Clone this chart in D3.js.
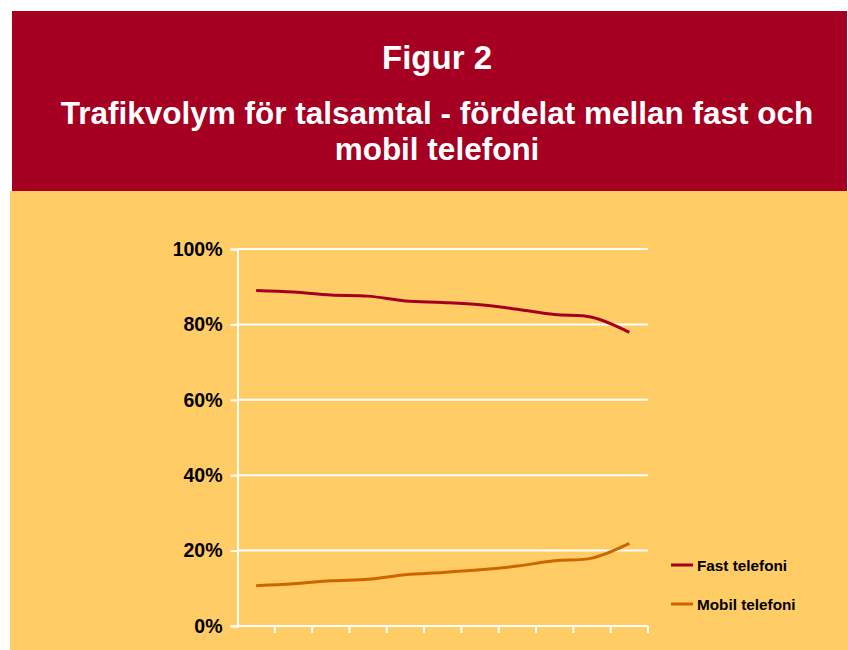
<!DOCTYPE html>
<html>
<head>
<meta charset="utf-8">
<script src="https://cdn.jsdelivr.net/npm/d3@7"></script>
<style>
  body { margin: 0; background: #ffffff; }
  text { font-family: "Liberation Sans", Arial, sans-serif; font-weight: bold; }
</style>
</head>
<body>
<script>
// data (share of call volume, %)
var periods = ["1","2","3","4","5","6","7","8","9","10","11"];
var fastTelefoni = [89.0, 88.6, 87.8, 87.5, 86.2, 85.8, 85.2, 84.0, 82.6, 81.9, 77.9];
var mobilTelefoni = [10.7, 11.2, 12.0, 12.4, 13.6, 14.2, 14.9, 15.9, 17.3, 18.0, 21.9];
var yTicks = [0, 20, 40, 60, 80, 100];
var seriesNames = ["Fast telefoni", "Mobil telefoni"];
var seriesColors = ["#a50021", "#cc6600"];

var width = 848, height = 650;
var svg = d3.select("body").append("svg")
    .attr("width", width)
    .attr("height", height);

// background panels
svg.append("rect").attr("x", 10).attr("y", 191).attr("width", 838).attr("height", 459).attr("fill", "#ffcc66");
svg.append("rect").attr("x", 12).attr("y", 11).attr("width", 835).attr("height", 180).attr("fill", "#a50021");

// titles
svg.append("text").attr("x", 437).attr("y", 69).attr("text-anchor", "middle")
    .attr("fill", "white").style("font-size", "33px").text("Figur 2");
svg.append("text").attr("x", 437).attr("y", 124).attr("text-anchor", "middle")
    .attr("fill", "white").style("font-size", "31.5px").text("Trafikvolym för talsamtal - fördelat mellan fast och");
svg.append("text").attr("x", 437).attr("y", 160).attr("text-anchor", "middle")
    .attr("fill", "white").style("font-size", "31.5px").text("mobil telefoni");

var x = d3.scaleBand().domain(periods).range([237.5, 648]);
var y = d3.scaleLinear().domain([0, 100]).range([626, 249]);

// gridlines
svg.append("g").selectAll("line").data(yTicks.filter(function(d){ return d > 0; }))
  .enter().append("line")
    .attr("x1", 237.5).attr("x2", 648)
    .attr("y1", function(d){ return y(d); }).attr("y2", function(d){ return y(d); })
    .attr("stroke", "white").attr("stroke-width", 2);

// y axis
var yAxis = svg.append("g").attr("transform", "translate(237.5,0)")
    .call(d3.axisLeft(y).tickValues(yTicks).tickSize(7).tickPadding(8)
      .tickFormat(function(d){ return d + "%"; }));
yAxis.select(".domain").attr("stroke", "white").attr("stroke-width", 2);
yAxis.selectAll(".tick line").attr("stroke", "white").attr("stroke-width", 2);
yAxis.selectAll(".tick text").attr("fill", "black")
    .style("font-size", "19.5px").style("font-family", "Liberation Sans, Arial, sans-serif").style("font-weight", "bold");

// x axis: ticks on category boundaries
var xAxis = svg.append("g").attr("transform", "translate(0,626)");
xAxis.append("line").attr("x1", 237.5).attr("x2", 648).attr("y1", 0).attr("y2", 0)
    .attr("stroke", "white").attr("stroke-width", 2);
var bounds = periods.map(function(p){ return x(p) + x.bandwidth(); });
xAxis.selectAll(".xt").data(bounds).enter().append("line")
    .attr("x1", function(d){ return d; }).attr("x2", function(d){ return d; })
    .attr("y1", 0).attr("y2", 7)
    .attr("stroke", "white").attr("stroke-width", 2);

// lines
var line = d3.line()
    .x(function(d, i){ return x(periods[i]) + x.bandwidth() / 2; })
    .y(function(d){ return y(d); })
    .curve(d3.curveCatmullRom.alpha(0.5));

[fastTelefoni, mobilTelefoni].forEach(function(s, i) {
  svg.append("path").datum(s)
    .attr("d", line)
    .attr("fill", "none")
    .attr("stroke", seriesColors[i])
    .attr("stroke-width", 3);
});

// legend
var legend = svg.append("g").selectAll("g").data(seriesNames).enter().append("g")
    .attr("transform", function(d, i){ return "translate(671," + (565 + i * 39) + ")"; });
legend.append("line").attr("x1", 0).attr("x2", 22).attr("y1", 0).attr("y2", 0)
    .attr("stroke", function(d, i){ return seriesColors[i]; }).attr("stroke-width", 3);
legend.append("text").attr("x", 26).attr("y", 5.5).style("font-size", "15.3px")
    .attr("fill", "black").text(function(d){ return d; });
</script>
</body>
</html>
